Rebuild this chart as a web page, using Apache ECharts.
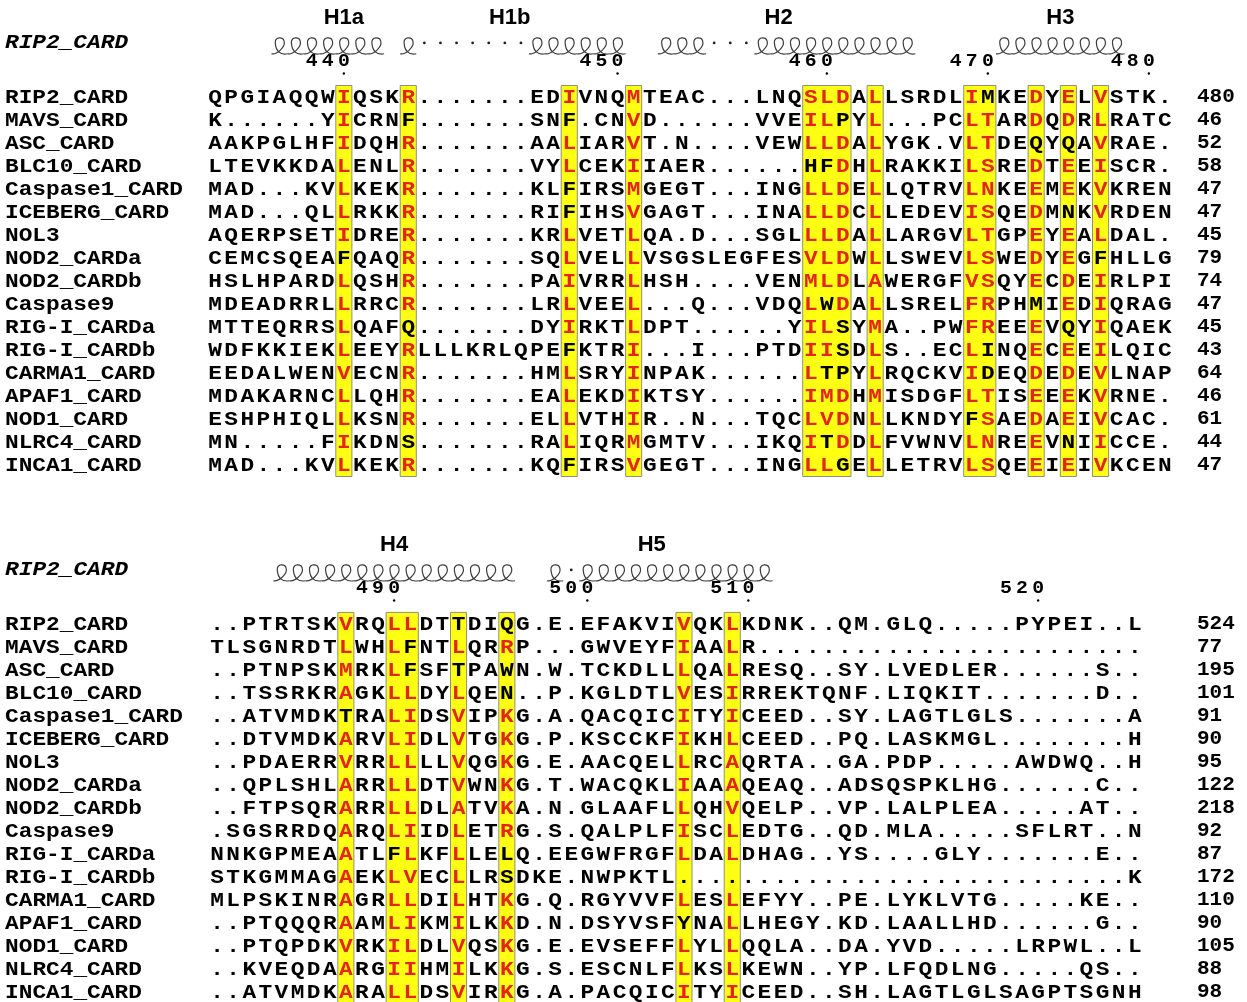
<!DOCTYPE html>
<html>
<head>
<meta charset="utf-8">
<script src="https://cdn.jsdelivr.net/npm/echarts@6/dist/echarts.min.js"></script>
<style>
  html, body { margin: 0; padding: 0; background: #ffffff; }
  #chart { width: 1247px; height: 1002px; }
</style>
</head>
<body>
<div id="chart"></div>
<script>
// ---- Alignment data -------------------------------------------------------
const names = ['RIP2_CARD', 'MAVS_CARD', 'ASC_CARD', 'BLC10_CARD', 'Caspase1_CARD',
  'ICEBERG_CARD', 'NOL3', 'NOD2_CARDa', 'NOD2_CARDb', 'Caspase9', 'RIG-I_CARDa',
  'RIG-I_CARDb', 'CARMA1_CARD', 'APAF1_CARD', 'NOD1_CARD', 'NLRC4_CARD', 'INCA1_CARD'];

const referenceName = 'RIP2_CARD';
const referenceStart = [432, 481];           // first residue number of each block

const seqBlock1 = [
  'QPGIAQQWIQSKR.......EDIVNQMTEAC...LNQSLDALLSRDLIMKEDYELVSTK.',
  'K......YICRNF.......SNF.CNVD......VVEILPYL...PCLTARDQDRLRATC',
  'AAKPGLHFIDQHR.......AALIARVT.N....VEWLLDALYGK.VLTDEQYQAVRAE.',
  'LTEVKKDALENLR.......VYLCEKIIAER......HFDHLRAKKILSREDTEEISCR.',
  'MAD...KVLKEKR.......KLFIRSMGEGT...INGLLDELLQTRVLNKEEMEKVKREN',
  'MAD...QLLRKKR.......RIFIHSVGAGT...INALLDCLLEDEVISQEDMNKVRDEN',
  'AQERPSETIDRER.......KRLVETLQA.D...SGLLLDALLARGVLTGPEYEALDAL.',
  'CEMCSQEAFQAQR.......SQLVELLVSGSLEGFESVLDWLLSWEVLSWEDYEGFHLLG',
  'HSLHPARDLQSHR.......PAIVRRLHSH....VENMLDLAWERGFVSQYECDEIRLPI',
  'MDEADRRLLRRCR.......LRLVEEL...Q...VDQLWDALLSRELFRPHMIEDIQRAG',
  'MTTEQRRSLQAFQ.......DYIRKTLDPT......YILSYMA..PWFREEEVQYIQAEK',
  'WDFKKIEKLEEYRLLLKRLQPEFKTRI...I...PTDIISDLS..ECLINQECEEILQIC',
  'EEDALWENVECNR.......HMLSRYINPAK......LTPYLRQCKVIDEQDEDEVLNAP',
  'MDAKARNCLLQHR.......EALEKDIKTSY......IMDHMISDGFLTISEEEKVRNE.',
  'ESHPHIQLLKSNR.......ELLVTHIR..N...TQCLVDNLLKNDYFSAEDAEIVCAC.',
  'MN.....FIKDNS.......RALIQRMGMTV...IKQITDDLFVWNVLNREEVNIICCE.',
  'MAD...KVLKEKR.......KQFIRSVGEGT...INGLLGELLETRVLSQEEIEIVKCEN'
];

const seqBlock2 = [
  '..PTRTSKVRQLLDTTDIQG.E.EFAKVIVQKLKDNK..QM.GLQ.....PYPEI..L',
  'TLSGNRDTLWHLFNTLQRRP...GWVEYFIAALR........................',
  '..PTNPSKMRKLFSFTPAWN.W.TCKDLLLQALRESQ..SY.LVEDLER......S..',
  '..TSSRKRAGKLLDYLQEN..P.KGLDTLVESIRREKTQNF.LIQKIT.......D..',
  '..ATVMDKTRALIDSVIPKG.A.QACQICITYICEED..SY.LAGTLGLS.......A',
  '..DTVMDKARVLIDLVTGKG.P.KSCCKFIKHLCEED..PQ.LASKMGL........H',
  '..PDAERRVRRLLLLVQGKG.E.AACQELLRCAQRTA..GA.PDP.....AWDWQ..H',
  '..QPLSHLARRLLDTVWNKG.T.WACQKLIAAAQEAQ..ADSQSPKLHG......C..',
  '..FTPSQRARRLLDLATVKA.N.GLAAFLLQHVQELP..VP.LALPLEA.....AT..',
  '.SGSRRDQARQLIIDLETRG.S.QALPLFISCLEDTG..QD.MLA.....SFLRT..N',
  'NNKGPMEAATLFLKFLLELQ.EEGWFRGFLDALDHAG..YS....GLY.......E..',
  'STKGMMAGAEKLVECLLRSDKE.NWPKTL............................K',
  'MLPSKINRAGRLLDILHTKG.Q.RGYVVFLESLEFYY..PE.LYKLVTG.....KE..',
  '..PTQQQRAAMLIKMILKKD.N.DSYVSFYNALLHEGY.KD.LAALLHD......G..',
  '..PTQPDKVRKILDLVQSKG.E.EVSEFFLYLLQQLA..DA.YVD.....LRPWL..L',
  '..KVEQDAARGIIHMILKKG.S.ESCNLFLKSLKEWN..YP.LFQDLNG.....QS..',
  '..ATVMDKARALLDSVIRKG.A.PACQICITYICEED..SH.LAGTLGLSAGPTSGNH'
];

const endNumbers1 = [480, 46, 52, 58, 47, 47, 45, 79, 74, 47, 45, 43, 64, 46, 61, 44, 47];
const endNumbers2 = [524, 77, 195, 101, 91, 90, 95, 122, 218, 92, 87, 172, 110, 90, 105, 88, 98];

// columns shaded as conserved
const boxedCols1 = [8, 12, 22, 26, 37, 38, 39, 41, 47, 48, 51, 53, 55];
const boxedCols2 = [8, 11, 12, 15, 18, 29, 32];

// residues inside shaded columns that stay black (sequence name, column)
const blackInBox1 = [
  ['NOD2_CARDa', 8],
  ['MAVS_CARD', 12], ['RIG-I_CARDa', 12], ['NLRC4_CARD', 12],
  ['MAVS_CARD', 22], ['Caspase1_CARD', 22], ['ICEBERG_CARD', 22], ['RIG-I_CARDb', 22], ['INCA1_CARD', 22],
  ['BLC10_CARD', 37],
  ['BLC10_CARD', 38], ['Caspase9', 38], ['CARMA1_CARD', 38], ['NLRC4_CARD', 38],
  ['MAVS_CARD', 39], ['RIG-I_CARDa', 39], ['RIG-I_CARDb', 39], ['CARMA1_CARD', 39], ['INCA1_CARD', 39],
  ['NOD1_CARD', 47],
  ['RIP2_CARD', 48], ['RIG-I_CARDb', 48], ['CARMA1_CARD', 48],
  ['ASC_CARD', 51], ['Caspase9', 51],
  ['ASC_CARD', 53], ['ICEBERG_CARD', 53], ['RIG-I_CARDa', 53], ['NLRC4_CARD', 53],
  ['NOD2_CARDa', 55]
];
const blackInBox2 = [
  ['Caspase1_CARD', 8],
  ['RIG-I_CARDa', 11],
  ['MAVS_CARD', 12], ['ASC_CARD', 12],
  ['RIP2_CARD', 15], ['ASC_CARD', 15],
  ['RIP2_CARD', 18], ['ASC_CARD', 18], ['BLC10_CARD', 18], ['RIG-I_CARDa', 18], ['RIG-I_CARDb', 18],
  ['APAF1_CARD', 29]
];

// secondary structure of the reference: h = helix turn, . = gap
const structure1 = '    hhhhhhh h.......hhhhhh  hhh...hhhhhhhhhh     hhhhhhhh   ';
const structure2 = '    hhhhhhhhhhhhhhh  h.hhhhhhhhhhhh                       ';

const helixLabels1 = ['H1a', 'H1b', 'H2', 'H3'];
const helixLabelCols1 = [8, 18.3, 35, 52.5];
const helixLabels2 = ['H4', 'H5'];
const helixLabelCols2 = [11, 27];

// ---- Layout / styling constants ---------------------------------------------
const MONO = '"Liberation Mono", "Courier New", monospace';
const SANS = '"Liberation Sans", Arial, sans-serif';
const RED = '#e3261b';
const YELLOW = '#ffff14';
const BOX_EDGE = '#8f8f80';
const STRETCH = 1.14;                     // widen the mono face toward a Courier look
const ROW_HDR_LABEL = -3.45, ROW_REF = -2.4, ROW_COIL = -1.88, ROW_DOT = -2.35, ROW_NUM = -1.55, ROW_TICK = -1.02;

// ---- Builders ----------------------------------------------------------------
function groups(cols) {
  const out = [];
  cols.slice().sort((a, b) => a - b).forEach(c => {
    const last = out[out.length - 1];
    if (last && c === last[1] + 1) last[1] = c; else out.push([c, c]);
  });
  return out;
}

function textEl(text, p, font, fill, align, sx) {
  return {
    type: 'text', x: p[0], y: p[1], scaleX: sx || 1,
    style: {
      text, x: 0, y: 0, font, fill,
      align, verticalAlign: 'middle', textAlign: align, textVerticalAlign: 'middle'
    }
  };
}

function boxSeries(cols, nRows, xi, yi) {
  return {
    type: 'custom', xAxisIndex: xi, yAxisIndex: yi, clip: false, silent: true, z: 1,
    data: groups(cols),
    renderItem(params, api) {
      const a = api.coord([api.value(0) - 0.5, -0.5]);
      const b = api.coord([api.value(1) + 0.5, nRows - 0.5]);
      return {
        type: 'rect',
        shape: { x: a[0], y: a[1], width: b[0] - a[0], height: b[1] - a[1] },
        style: { fill: YELLOW, stroke: BOX_EDGE, lineWidth: 1 }
      };
    }
  };
}

function residueSeries(seqs, boxed, blackList, xi, yi) {
  const cells = [];
  seqs.forEach((s, r) => {
    for (let c = 0; c < s.length; c++) {
      const ch = s[c];
      const inBox = boxed.includes(c);
      const black = blackList.some(b => b[0] === names[r] && b[1] === c);
      cells.push({ c, r, ch, red: inBox && ch !== '.' && !black });
    }
  });
  return {
    type: 'custom', xAxisIndex: xi, yAxisIndex: yi, clip: false, silent: true, z: 3,
    data: cells.map(d => [d.c, d.r]),
    renderItem(params, api) {
      const cell = cells[params.dataIndex];
      const p = api.coord([api.value(0), api.value(1)]);
      return textEl(cell.ch, [p[0], p[1] + 1], 'bold 20px ' + MONO,
        cell.red ? RED : '#000000', 'center', STRETCH);
    }
  };
}

// sequence names sit at a fixed column left of the alignment
function nameSeries(nameCol, xi, yi) {
  return {
    type: 'custom', xAxisIndex: xi, yAxisIndex: yi, clip: false, silent: true, z: 3,
    data: names.map((n, i) => [nameCol, i]).concat([[nameCol, ROW_REF]]),
    renderItem(params, api) {
      const p = api.coord([api.value(0), api.value(1)]);
      const isRef = params.dataIndex === names.length;
      return textEl(isRef ? referenceName : names[params.dataIndex], [p[0], p[1] + 1],
        (isRef ? 'italic ' : '') + 'bold 20px ' + MONO, '#000000', 'left', STRETCH);
    }
  };
}

function coilPath(cx, yb, w, h) {
  const x0 = cx - w / 2, x1 = cx + w / 2;
  const f = v => v.toFixed(2);
  return 'M' + f(x0) + ',' + f(yb) +
    ' C' + f(x0 + w * 0.32) + ',' + f(yb + 1.2) + ' ' + f(cx + w * 0.36) + ',' + f(yb - h * 0.4) + ' ' + f(cx + w * 0.3) + ',' + f(yb - h * 0.74) +
    ' C' + f(cx + w * 0.25) + ',' + f(yb - h * 1.08) + ' ' + f(cx - w * 0.3) + ',' + f(yb - h * 1.08) + ' ' + f(cx - w * 0.26) + ',' + f(yb - h * 0.68) +
    ' C' + f(cx - w * 0.22) + ',' + f(yb - h * 0.18) + ' ' + f(cx + w * 0.02) + ',' + f(yb + 1.4) + ' ' + f(x1) + ',' + f(yb);
}

function structureSeries(structure, xi, yi) {
  const items = [];
  for (let c = 0; c < structure.length; c++) {
    if (structure[c] !== ' ') items.push([c, structure[c] === 'h' ? 1 : 0]);
  }
  return {
    type: 'custom', xAxisIndex: xi, yAxisIndex: yi, clip: false, silent: true, z: 3,
    data: items,
    renderItem(params, api) {
      const c = api.value(0);
      const a = api.coord([c - 0.5, ROW_COIL]);
      const b = api.coord([c + 0.5, ROW_COIL]);
      const w = b[0] - a[0];
      const cx = (a[0] + b[0]) / 2;
      if (api.value(1) === 1) {
        return {
          type: 'path',
          shape: { pathData: coilPath(cx, a[1], w, 16) },
          style: { fill: null, stroke: '#3c3c3c', lineWidth: 1.2 }
        };
      }
      const d = api.coord([c, ROW_DOT]);
      return { type: 'circle', shape: { cx: d[0], cy: d[1], r: 1.4 }, style: { fill: '#222' } };
    }
  };
}

// ruler: every tenth residue of the reference sequence, digits one per column
function rulerData(refSeq, start) {
  const out = [];
  let n = start;
  for (let c = 0; c < refSeq.length; c++) {
    if (refSeq[c] === '.') continue;
    if (n % 10 === 0) out.push([c, n]);
    n++;
  }
  return out;
}

function rulerSeries(refSeq, start, xi, yi) {
  return {
    type: 'custom', xAxisIndex: xi, yAxisIndex: yi, clip: false, silent: true, z: 3,
    data: rulerData(refSeq, start),
    renderItem(params, api) {
      const c = api.value(0);
      const digits = String(api.value(1));
      const children = [];
      for (let i = 0; i < digits.length; i++) {
        const p = api.coord([c - (digits.length - 1 - i), ROW_NUM]);
        children.push(textEl(digits[i], p, 'bold 18px ' + MONO, '#000', 'center', 1.1));
      }
      const t = api.coord([c, ROW_TICK]);
      children.push({ type: 'circle', shape: { cx: t[0], cy: t[1], r: 1.2 }, style: { fill: '#000' } });
      return { type: 'group', children };
    }
  };
}

function helixLabelSeries(labels, cols, xi, yi) {
  return {
    type: 'custom', xAxisIndex: xi, yAxisIndex: yi, clip: false, silent: true, z: 3,
    data: cols.map((c, i) => [c, i]),
    renderItem(params, api) {
      const p = api.coord([api.value(0), ROW_HDR_LABEL]);
      return textEl(labels[api.value(1)], p, 'bold 22px ' + SANS, '#000', 'center', 1);
    }
  };
}

function rowAxis(gridIndex, min, max) {
  return {
    gridIndex, type: 'value', inverse: true, min, max, interval: 1,
    axisLine: { show: false }, axisTick: { show: false }, splitLine: { show: false },
    axisLabel: { show: false }
  };
}

function endAxis(gridIndex, min, max, margin, ends) {
  return {
    gridIndex, type: 'value', inverse: true, position: 'right', min, max, interval: 1,
    axisLine: { show: false }, axisTick: { show: false }, splitLine: { show: false },
    axisLabel: {
      margin, align: 'left', color: '#000', fontFamily: MONO, fontWeight: 'bold', fontSize: 21,
      formatter: v => (Number.isInteger(v) && ends[v] !== undefined) ? String(ends[v]) : ''
    }
  };
}

function colAxis(gridIndex) {
  return { gridIndex, type: 'value', min: -0.5, max: 59.5, show: false };
}

const chart = echarts.init(document.getElementById('chart'), null, { renderer: 'canvas' });

chart.setOption({
  animation: false,
  backgroundColor: '#ffffff',
  grid: [
    { left: 207, top: 5, width: 966, height: 483 },     // rows -4 .. 17, 23 px each
    { left: 209, top: 555, width: 966, height: 437 }    // rows -3 .. 16, 23 px each
  ],
  xAxis: [colAxis(0), colAxis(1)],
  yAxis: [
    rowAxis(0, -4, 17), endAxis(0, -4, 17, 24, endNumbers1),
    rowAxis(1, -3, 16), endAxis(1, -3, 16, 22, endNumbers2)
  ],
  series: [
    boxSeries(boxedCols1, seqBlock1.length, 0, 0),
    residueSeries(seqBlock1, boxedCols1, blackInBox1, 0, 0),
    nameSeries(-13.05, 0, 0),
    structureSeries(structure1, 0, 0),
    rulerSeries(seqBlock1[0], referenceStart[0], 0, 0),
    helixLabelSeries(helixLabels1, helixLabelCols1, 0, 0),

    boxSeries(boxedCols2, seqBlock2.length, 1, 2),
    residueSeries(seqBlock2, boxedCols2, blackInBox2, 1, 2),
    nameSeries(-13.17, 1, 2),
    structureSeries(structure2, 1, 2),
    rulerSeries(seqBlock2[0], referenceStart[1], 1, 2),
    helixLabelSeries(helixLabels2, helixLabelCols2, 1, 2)
  ]
});
</script>
</body>
</html>
